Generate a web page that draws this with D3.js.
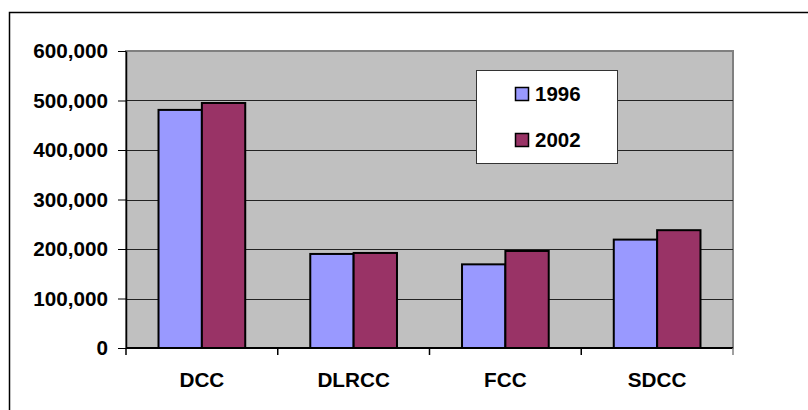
<!DOCTYPE html>
<html>
<head>
<meta charset="utf-8">
<script src="https://cdn.jsdelivr.net/npm/d3@7"></script>
<style>
  body { margin: 0; background: #fff; }
  text { font-family: "Liberation Sans", Arial, sans-serif; font-weight: bold; fill: #000; }
</style>
</head>
<body>
<div id="draw"></div>
<script>
var W = 808, H = 410;

// chart data
var categories = ['DCC', 'DLRCC', 'FCC', 'SDCC'];
var series = ['1996', '2002'];
var values1996 = [481000, 190000, 169000, 219000];
var values2002 = [495000, 192000, 196000, 238000];
var yTicks = [0, 100000, 200000, 300000, 400000, 500000, 600000];
var colors = ['#9999FF', '#993366'];

var seriesValues = [values1996, values2002];

var px0 = 126, px1 = 733, py0 = 51, py1 = 348;

var svg = d3.select('#draw').append('svg')
  .attr('width', W)
  .attr('height', H);

// outer frame (cropped at right and bottom)
svg.append('rect')
  .attr('x', 9.5).attr('y', 12.5)
  .attr('width', W + 20).attr('height', H + 20)
  .attr('fill', '#fff')
  .attr('stroke', '#000')
  .attr('stroke-width', 1.5);

var x = d3.scaleBand().domain(categories).range([px0, px1]).padding(0);
var xs = d3.scaleBand().domain(series).range([0, x.bandwidth()])
  .paddingInner(0).paddingOuter(0.75);
var y = d3.scaleLinear().domain([0, 600000]).range([py1, py0]);

// plot area
svg.append('rect')
  .attr('x', px0).attr('y', py0)
  .attr('width', px1 - px0).attr('height', py1 - py0)
  .attr('fill', '#C0C0C0')
  .attr('stroke', '#808080')
  .attr('stroke-width', 2);

// gridlines
svg.append('g').selectAll('line')
  .data(yTicks.filter(function(t) { return t > 0 && t < 600000; }))
  .enter().append('line')
  .attr('x1', px0).attr('x2', px1)
  .attr('y1', function(d) { return Math.round(y(d)) + 0.5; })
  .attr('y2', function(d) { return Math.round(y(d)) + 0.5; })
  .attr('stroke', '#222')
  .attr('stroke-width', 1);

// bars
var groups = svg.append('g').selectAll('g')
  .data(categories)
  .enter().append('g')
  .attr('transform', function(d) { return 'translate(' + x(d) + ',0)'; });

groups.selectAll('rect')
  .data(function(d, i) {
    return series.map(function(s, j) { return {s: s, v: seriesValues[j][i], j: j}; });
  })
  .enter().append('rect')
  .attr('x', function(d) { return xs(d.s); })
  .attr('y', function(d) { return y(d.v); })
  .attr('width', xs.bandwidth())
  .attr('height', function(d) { return y(0) - y(d.v); })
  .attr('fill', function(d) { return colors[d.j]; })
  .attr('stroke', '#000')
  .attr('stroke-width', 2);

// y axis
var yAxis = svg.append('g')
  .attr('transform', 'translate(' + px0 + ',0)')
  .call(d3.axisLeft(y).tickValues(yTicks).tickFormat(d3.format(','))
    .tickSize(8).tickPadding(10).tickSizeOuter(0));
yAxis.select('.domain').attr('stroke', '#000').attr('stroke-width', 1.5);
yAxis.selectAll('.tick line').attr('stroke', '#000');
yAxis.selectAll('text')
  .style('font-size', '20.7px')
  .style('font-family', '"Liberation Sans", Arial, sans-serif')
  .style('font-weight', 'bold')
  .attr('fill', '#000');

// x axis
svg.append('line')
  .attr('x1', px0).attr('x2', px1)
  .attr('y1', py1).attr('y2', py1)
  .attr('stroke', '#000')
  .attr('stroke-width', 2);

var bounds = categories.map(function(c) { return x(c); }).concat([px1]);
svg.append('g').selectAll('line')
  .data(bounds)
  .enter().append('line')
  .attr('x1', function(d) { return d; }).attr('x2', function(d) { return d; })
  .attr('y1', py1).attr('y2', py1 + 7)
  .attr('stroke', function(d, i) { return i === bounds.length - 1 ? '#808080' : '#000'; })
  .attr('stroke-width', 1.5);

svg.append('g').selectAll('text')
  .data(categories)
  .enter().append('text')
  .attr('x', function(d) { return x(d) + x.bandwidth() / 2; })
  .attr('y', 386.5)
  .attr('text-anchor', 'middle')
  .style('font-size', '20.7px')
  .text(function(d) { return d; });

// legend
var legend = svg.append('g');
legend.append('rect')
  .attr('x', 476.5).attr('y', 70.5)
  .attr('width', 141).attr('height', 93)
  .attr('fill', '#fff')
  .attr('stroke', '#333')
  .attr('stroke-width', 1);

var legendY = [101, 147];
series.forEach(function(s, i) {
  legend.append('rect')
    .attr('x', 515.5).attr('y', legendY[i] - 13.5)
    .attr('width', 13).attr('height', 13)
    .attr('fill', colors[i])
    .attr('stroke', '#000')
    .attr('stroke-width', 1.5);
  legend.append('text')
    .attr('x', 535)
    .attr('y', legendY[i])
    .style('font-size', '20.5px')
    .text(s);
});
</script>
</body>
</html>
